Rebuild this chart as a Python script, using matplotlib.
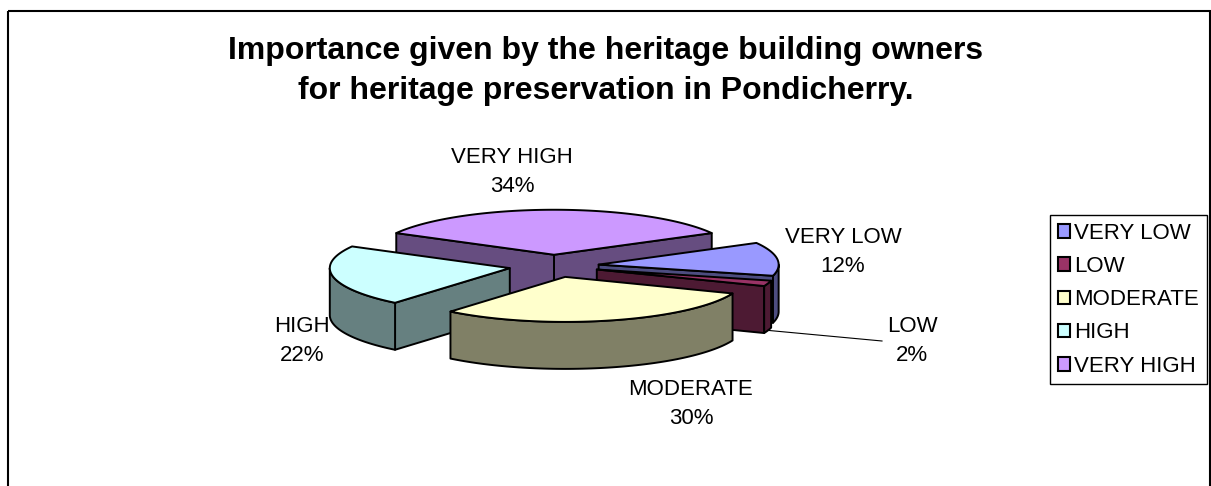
import numpy as np
import matplotlib
matplotlib.use("Agg")
import matplotlib.pyplot as plt
from matplotlib.patches import Polygon, Rectangle, Patch
from matplotlib.colors import to_rgb

# ---------------- data ----------------
categories = ["VERY LOW", "LOW", "MODERATE", "HIGH", "VERY HIGH"]
values = [12, 2, 30, 22, 34]
colors = ["#9999FF", "#993366", "#FFFFCC", "#CCFFFF", "#CC99FF"]
title = ("Importance given by the heritage building owners\n"
         "for heritage preservation in Pondicherry.")

# ---------------- layout ----------------
W, H = 1211, 486
plt.rcParams['font.family'] = ['Liberation Sans', 'DejaVu Sans']
fig = plt.figure(figsize=(W / 100, H / 100), dpi=100)
ax = fig.add_axes([0, 0, 1, 1])
ax.set_xlim(0, W)
ax.set_ylim(H, 0)
ax.axis('off')

cx, cy = 554, 266          # pie centre (pixels)
rx, ry = 180, 45           # ellipse radii
depth = 47                 # pie thickness
explode = 0.25             # explosion (fraction of radius)
start_angle = 28.8         # first slice starts here, goes clockwise
label_pos = [(843, 252), (912, 341), (691, 404), (302, 341), (512, 172)]
edge_lw = 1.4

vals = np.asarray(values, dtype=float)
fr = vals / vals.sum()
cum = np.concatenate([[0], np.cumsum(fr)])


def proj(t, r, z, ox, oy):
    tr = np.radians(t)
    return cx + ox + r * rx * np.cos(tr), cy + oy - r * ry * np.sin(tr) + z


slices = []
for i, (cat, v, c) in enumerate(zip(categories, values, colors)):
    hi = start_angle - 360 * cum[i]
    lo = start_angle - 360 * cum[i + 1]
    mid = 0.5 * (lo + hi)
    ox = explode * rx * np.cos(np.radians(mid))
    oy = -explode * ry * np.sin(np.radians(mid))
    slices.append(dict(cat=cat, v=v, c=c, lo=lo, hi=hi, mid=mid, ox=ox, oy=oy))


def draw_slice(s):
    top = np.array(to_rgb(s['c']))
    side = top * 0.5
    lo, hi, ox, oy = s['lo'], s['hi'], s['ox'], s['oy']
    faces = []
    # radial faces
    if np.cos(np.radians(lo)) > 0:
        faces.append([proj(0, 0, 0, ox, oy), proj(lo, 1, 0, ox, oy),
                      proj(lo, 1, depth, ox, oy), proj(0, 0, depth, ox, oy)])
    if np.cos(np.radians(hi)) < 0:
        faces.append([proj(0, 0, 0, ox, oy), proj(hi, 1, 0, ox, oy),
                      proj(hi, 1, depth, ox, oy), proj(0, 0, depth, ox, oy)])
    for pts in faces:
        ax.add_patch(Polygon(pts, closed=True, facecolor=side, edgecolor='black',
                             lw=edge_lw, joinstyle='round'))
    # outer curved side (front part only)
    for k in range(-2, 2):
        a = max(lo, -180 + 360 * k)
        b = min(hi, 360 * k)
        if b > a:
            t = np.linspace(a, b, 80)
            xt, yt = proj(t, 1, 0, ox, oy)
            xb, yb = proj(t[::-1], 1, depth, ox, oy)
            pts = np.column_stack([np.concatenate([xt, xb]), np.concatenate([yt, yb])])
            ax.add_patch(Polygon(pts, closed=True, facecolor=side, edgecolor='black',
                                 lw=edge_lw, joinstyle='round'))
    # top face
    t = np.linspace(lo, hi, 120)
    xt, yt = proj(t, 1, 0, ox, oy)
    x0, y0 = proj(0, 0, 0, ox, oy)
    pts = np.column_stack([np.concatenate([[x0], xt]), np.concatenate([[y0], yt])])
    ax.add_patch(Polygon(pts, closed=True, facecolor=top, edgecolor='black',
                         lw=edge_lw, joinstyle='round'))


for s in sorted(slices, key=lambda s: -np.sin(np.radians(s['mid']))):
    draw_slice(s)

# labels
for s, (lx, ly) in zip(slices, label_pos):
    ax.text(lx, ly, f"{s['cat']}\n{s['v']}%", ha='center', va='center',
            fontsize=16, linespacing=1.55, color='black')

# leader line for the small slice
s_low = slices[1]
lx0, ly0 = proj(s_low['mid'], 1, depth, s_low['ox'], s_low['oy'])
ax.plot([lx0, label_pos[1][0] - 30], [ly0, label_pos[1][1]], color='black', lw=0.8)

# title
ax.text(606, 71, title, ha='center', va='center', fontsize=23, fontweight='bold',
        linespacing=1.4)

# chart border
ax.add_patch(Rectangle((8, 11), 1202, 500, fill=False, edgecolor='black', lw=1.5,
                       clip_on=False))

# legend
handles = [Patch(facecolor=c, edgecolor='black', lw=1.5) for c in colors]
leg = ax.legend(handles, categories, loc='upper left',
                bbox_to_anchor=(1050 / W, 1 - 215 / H), bbox_transform=ax.transAxes,
                borderaxespad=0, fancybox=False, framealpha=1, edgecolor='black',
                fontsize=16, handlelength=0.55, handleheight=0.55,
                handletextpad=0.2, labelspacing=0.55, borderpad=0.35)
leg.get_frame().set_linewidth(1.0)

fig.savefig("out.png", dpi=100)
